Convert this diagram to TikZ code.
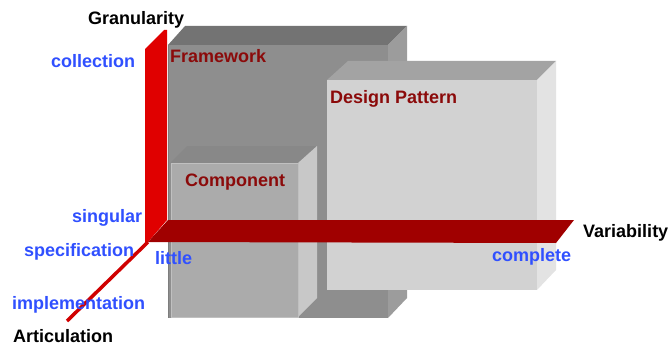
\documentclass[tikz,border=0pt]{standalone}
\usepackage{fontspec}
\setmainfont{Liberation Sans}
\definecolor{axisred}{HTML}{E00000}
\definecolor{bardark}{HTML}{A00000}
\definecolor{linered}{HTML}{D00000}
\definecolor{valblue}{HTML}{3050FF}
\definecolor{boxred}{HTML}{8B0A0A}
\definecolor{fwtop}{HTML}{737373}
\definecolor{fwside}{HTML}{9C9C9C}
\definecolor{fwfront}{HTML}{8E8E8E}
\definecolor{fwedge}{HTML}{7D7D7D}
\definecolor{cotop}{HTML}{888888}
\definecolor{coside}{HTML}{C8C8C8}
\definecolor{cofront}{HTML}{ABABAB}
\definecolor{coedge}{HTML}{C0C0C0}
\definecolor{dptop}{HTML}{A3A3A3}
\definecolor{dpside}{HTML}{E3E3E3}
\definecolor{dpfront}{HTML}{D2D2D2}
\tikzset{every node/.style={font=\bfseries\fontsize{18}{18}\selectfont, inner sep=0pt, anchor=base west}}
\tikzset{val/.style={text=valblue}, boxlabel/.style={text=boxred}}

\begin{document}
\begin{tikzpicture}[x=1pt,y=-1pt]
		\useasboundingbox (0,0) rectangle (670,345);
		\fill[fwtop] (168,45) -- (185,26) -- (407,26) -- (388,45) -- cycle;
		\fill[fwside] (388,45) -- (407,26) -- (407,298) -- (388,318) -- cycle;
		\fill[fwfront] (168,45) rectangle (388,318);
		\draw[fwedge] (168.5,45) -- (168.5,318);
		
		\fill[cotop] (170,163) -- (187,146) -- (317,146) -- (298,163) -- cycle;
		\fill[coside] (298,163) -- (317,146) -- (317,298) -- (298,317) -- cycle;
		\fill[cofront, draw=coedge] (171,163) rectangle (298,317);
		
		\fill[dptop] (327,80) -- (348,61) -- (556,61) -- (537,80) -- cycle;
		\fill[dpside] (537,80) -- (556,61) -- (556,270) -- (537,290) -- cycle;
		\fill[dpfront] (327,80) rectangle (537,290);
		
		\coordinate (O) at (148,242);
		\coordinate (art) at (67,321);
		\fill[axisred] (145,49) -- (164,30) -- (167,30) -- (167,220) -- (O) -- (145,242) -- cycle;
		\fill[bardark] (O) -- (168,220) -- (574,220) -- (556,243) -- cycle;
		\draw[linered, line width=3.5pt] (O) -- (art);
		
		\node (gran) at (88,25) {Granularity};
		\node[val] (coll) at (51,68) {collection};
		\node[val] (sing) at (72,222) {singular};
		\node[val] (spec) at (24,256) {specification};
		\node[val] (litt) at (155,264) {little};
		\node[val] (impl) at (12,309) {implementation};
		\node (artic) at (13,342) {Articulation};
		\node (vari) at (583,237) {Variability};
		\node[val] (comp) at (492,261) {complete};
		
		\node[boxlabel] (frame) at (170,63) {Framework};
		\node[boxlabel] (compo) at (185,186) {Component};
		\node[boxlabel] (patt) at (330,103) {Design Pattern};
	\end{tikzpicture}
\end{document}
